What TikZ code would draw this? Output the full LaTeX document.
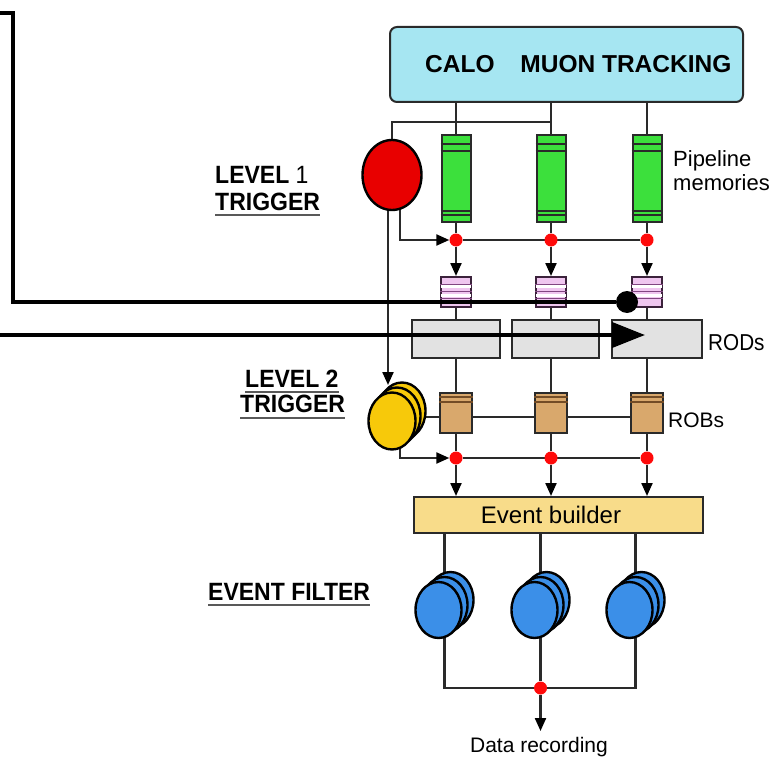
\documentclass[tikz,border=0pt]{standalone}
\usepackage{fontspec}
\setmainfont{Liberation Sans}
\newfontfamily\narrowfont[FakeStretch=0.9]{Liberation Sans}
\newfontfamily\labfont[FakeStretch=0.92]{Liberation Sans}
\usetikzlibrary{shapes.geometric,arrows.meta,calc,backgrounds}
\definecolor{cyanbox}{HTML}{A6E6F2}
\definecolor{pipegreen}{HTML}{3CE03C}
\definecolor{l1red}{HTML}{E80000}
\definecolor{dotred}{HTML}{FF0A0A}
\definecolor{lilac}{HTML}{EFC6EF}
\definecolor{rodgray}{HTML}{E2E2E2}
\definecolor{robtan}{HTML}{D9A86C}
\definecolor{l2yellow}{HTML}{F7C90A}
\definecolor{ebyellow}{HTML}{F8DC8A}
\definecolor{efblue}{HTML}{3B8FE8}
\definecolor{linegray}{HTML}{2A2A2A}
\tikzset{
  ln/.style={draw=linegray, line width=2.2pt},
  arr/.style={ln, -{Triangle[length=13pt,width=11pt,color=black]}},
  heavy/.style={draw=black, line width=4pt},
  box/.style={draw=linegray, line width=2pt, inner sep=0pt},
  pipe/.style={box, fill=pipegreen, minimum width=29pt, minimum height=87pt},
  lilacbox/.style={box, draw=linegray!80!violet, fill=lilac, minimum width=30pt, minimum height=30pt},
  rodbox/.style={box, fill=rodgray, minimum height=38pt},
  robbox/.style={box, fill=robtan, minimum width=32pt, minimum height=40pt},
  redot/.style={circle, fill=dotred, inner sep=0pt, minimum size=13pt},
  ydisk/.style={ellipse, box, draw=black, line width=2.4pt, fill=l2yellow, minimum width=47pt, minimum height=57pt},
  bdisk/.style={ellipse, box, draw=black, line width=2.4pt, fill=efblue, minimum width=46pt, minimum height=56pt},
  stripe/.style={draw=linegray, line width=1.2pt},
  lstripe/.style={draw=violet!45!gray, line width=1pt},
  ul/.style={draw=black!65, line width=1.8pt},
  lab/.style={inner sep=0pt, anchor=base west, font=\labfont\bfseries\fontsize{25}{25}\selectfont},
  small/.style={inner sep=0pt, anchor=base west, font=\fontsize{22}{22}\selectfont}
}
\begin{document}
\begin{tikzpicture}[x=1pt,y=-1pt]
\useasboundingbox (0,0) rectangle (774,757);

% detector box
\node[box, rounded corners=7pt, fill=cyanbox, minimum width=353pt, minimum height=75pt] (det) at (566.5,64.5) {};
\node[inner sep=0pt, anchor=base west, font=\bfseries\fontsize{24.5}{25}\selectfont] (dett) at (425,73) {CALO\hspace{19pt} MUON TRACKING};

% columns
\foreach \i/\x in {1/456,2/551,3/647}{
  \node[pipe] (p\i) at (\x,178.5) {};
  \node[redot] (r1\i) at (\x,240) {};
  \node[lilacbox] (q\i) at (\x,292) {};
  \node[robbox] (o\i) at (\x,413) {};
  \node[redot] (r2\i) at (\x,458) {};
}
\foreach \i in {1,2,3}{
  \draw[stripe] ($(p\i.north west)+(0,10)$) -- ($(p\i.north east)+(0,10)$);
  \draw[stripe] ($(p\i.north west)+(0,17)$) -- ($(p\i.north east)+(0,17)$);
  \draw[stripe] ($(p\i.south west)+(0,-12)$) -- ($(p\i.south east)+(0,-12)$);
  \draw[stripe] ($(p\i.south west)+(0,-8)$) -- ($(p\i.south east)+(0,-8)$);
  \fill[white] ($(q\i.north west)+(1,9)$) rectangle ($(q\i.north east)+(-1,12)$);
  \fill[white] ($(q\i.north west)+(1,18)$) rectangle ($(q\i.north east)+(-1,21)$);
  \draw[lstripe] ($(q\i.north west)+(0,8)$) -- ($(q\i.north east)+(0,8)$);
  \draw[lstripe] ($(q\i.north west)+(0,15)$) -- ($(q\i.north east)+(0,15)$);
  \draw[lstripe] ($(q\i.north west)+(0,22)$) -- ($(q\i.north east)+(0,22)$);
  \draw[stripe, draw=brown!60!black] ($(o\i.north west)+(0,5)$) -- ($(o\i.north east)+(0,5)$);
  \draw[stripe, draw=brown!60!black] ($(o\i.north west)+(0,10)$) -- ($(o\i.north east)+(0,10)$);
}

% RODs
\node[rodbox, minimum width=88pt] (rod1) at (456,339) {};
\node[rodbox, minimum width=87pt] (rod2) at (555.5,339) {};
\node[rodbox, minimum width=90pt] (rod3) at (657,339) {};

% level 1 trigger
\node[ellipse, box, draw=black, line width=2.4pt, fill=l1red, minimum width=59pt, minimum height=70pt] (l1) at (392,175) {};

% level 2 trigger disks
\node[ydisk] (y3) at (402,411) {};
\node[ydisk] (y2) at (397,416) {};
\node[ydisk] (y1) at (392,421) {};

% event builder
\node[box, fill=ebyellow, minimum width=289pt, minimum height=36pt] (eb) at (558.5,515) {};
\node[inner sep=0pt, anchor=base, font=\fontsize{24}{24}\selectfont] (ebt) at (551,523) {Event builder};

% event filter disks
\foreach \i/\x in {1/438.5,2/534.5,3/629.5}{
  \node[bdisk] (fb\i) at (\x+12,600) {};
  \node[bdisk] (fm\i) at (\x+6,605) {};
  \node[bdisk] (ff\i) at (\x,610) {};
}
\node[redot] (rb) at (540.5,688) {};
\coordinate (rec) at (540.5,731);

% coordinates
\coordinate (bus1) at (392,122);
\coordinate (l1o) at (400,200);
\coordinate (l1d) at (388,200);
\coordinate (l2in) at (388,385);
\coordinate (ybus) at (403,417);
\coordinate (y1o) at (400,440);

\begin{scope}[on background layer]
  \foreach \i in {1,2,3}{
    \draw[ln] (det.south -| p\i) -- (p\i.north);
    \draw[ln] (p\i) -- (r1\i);
    \draw[arr] (r1\i) -- (q\i);
    \draw[ln] (q\i) -- (o\i);
    \draw[ln] (o\i) -- (r2\i);
    \draw[arr] (r2\i) -- (r2\i |- eb.north);
    \draw[ln] (eb.south -| fm\i) -- (fm\i);
  }
  \draw[ln] (l1.north) -- (bus1) -- (bus1 -| p2);
  \draw[arr] (l1o) |- (r11);
  \draw[ln] (r11) -- (r13);
  \draw[arr] (l1d) -- (l2in);
  \draw[ln] (ybus) -- (ybus -| o3);
  \draw[arr] (y1o) |- (r21);
  \draw[ln] (r21) -- (r23);
  \draw[ln] (fm1) |- (rb);
  \draw[ln] (fm3) |- (rb);
  \draw[ln] (fm2) -- (rb);
\end{scope}
\draw[arr] (rb) -- (rec);

% labels
\node[small] (pl1) at (673,167) {Pipeline};
\node[small] (pl2) at (673,190) {memories};
\node[inner sep=0pt, anchor=base west, font=\narrowfont\fontsize{23}{23}\selectfont] (rods) at (708,350) {RODs};
\node[inner sep=0pt, anchor=base west, font=\fontsize{21}{21}\selectfont] (robs) at (668,427) {ROBs};
\node[inner sep=0pt, anchor=base, font=\fontsize{21}{21}\selectfont] (drec) at (539,752) {Data recording};

\node[lab] (lv1a) at (215,183) {LEVEL {\mdseries 1}};
\node[lab] (lv1b) at (215,210) {TRIGGER};
\draw[ul] ($(lv1b.base west)+(0,5)$) -- ($(lv1b.base east)+(0,5)$);
\node[lab] (lv2a) at (245,387) {LEVEL 2};
\draw[ul] ($(lv2a.base west)+(0,5)$) -- ($(lv2a.base east)+(0,5)$);
\node[lab] (lv2b) at (240,412) {TRIGGER};
\draw[ul] ($(lv2b.base west)+(0,6)$) -- ($(lv2b.base east)+(0,6)$);
\node[lab] (evf) at (208,600) {EVENT FILTER};
\draw[ul] ($(evf.base west)+(0,5)$) -- ($(evf.base east)+(0,5)$);

% heavy black overlay lines
\coordinate (s1) at (-3,13);
\coordinate (k1) at (13,13);
\node[circle, fill=black, minimum size=22pt, inner sep=0pt] (bdot) at (627,302) {};
\draw[heavy] (s1) -- (k1) |- (bdot);
\coordinate (s2) at (-3,335);
\coordinate (t2) at (645,335);
\draw[heavy, -{Triangle[length=33pt,width=25pt]}] (s2) -- (t2);
\end{tikzpicture}
\end{document}
